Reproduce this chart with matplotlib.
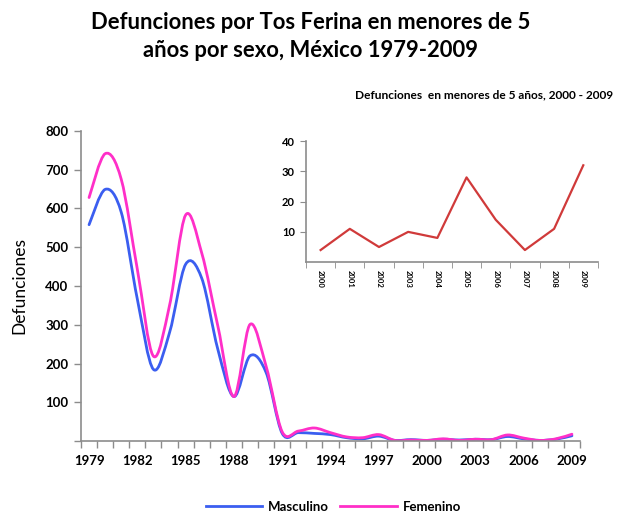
import numpy as np
import matplotlib
matplotlib.use("Agg")
import matplotlib.pyplot as plt
from matplotlib.path import Path
from matplotlib.patches import PathPatch
from matplotlib.lines import Line2D
from matplotlib.ticker import FixedLocator

plt.rcParams['font.family'] = ['Lato', 'DejaVu Sans']

years = list(range(1979, 2010))
masculino = [558, 649, 590, 366, 185, 280, 456, 420, 237, 115, 220, 177, 20, 22, 20,
             17, 9, 6, 13, 2, 4, 2, 5, 3, 5, 4, 12, 6, 2, 5, 14]
femenino = [628, 741, 675, 443, 219, 350, 583, 485, 297, 115, 301, 193, 24, 26, 34,
            22, 11, 9, 17, 2, 3, 2, 6, 2, 5, 4, 16, 8, 2, 6, 18]

inset_years = list(range(2000, 2010))
inset_total = [4, 11, 5, 10, 8, 28, 14, 4, 11, 32]

blue = '#3b5ef0'
pink = '#ff2fc8'
red = '#d03a3a'
gray = '#8c8c8c'


def smooth_path(x, y):
    # Excel-style smoothed line: cubic bezier segments through every point
    pts = np.column_stack([x, y]).astype(float)
    n = len(pts)
    verts = [pts[0]]
    codes = [Path.MOVETO]
    for i in range(n - 1):
        p0 = pts[i - 1] if i > 0 else pts[i]
        p1 = pts[i]
        p2 = pts[i + 1]
        p3 = pts[i + 2] if i + 2 < n else pts[i + 1]
        c1 = p1 + (p2 - p0) / 6.0
        c2 = p2 - (p3 - p1) / 6.0
        verts += [c1, c2, p2]
        codes += [Path.CURVE4] * 3
    return Path(verts, codes)


fig = plt.figure(figsize=(6.17, 5.13), dpi=100)

ax = fig.add_axes([0.1313, 0.140, 0.8087, 0.605])
xpos = np.arange(len(years))
for vals, col in [(masculino, blue), (femenino, pink)]:
    ax.add_patch(PathPatch(smooth_path(xpos, vals), fill=False, edgecolor=col,
                           lw=2.0, capstyle='round', joinstyle='round'))
ax.set_xlim(-0.5, len(years) - 0.5)
ax.set_ylim(0, 800)
ax.set_yticks(range(100, 801, 100))
ax.yaxis.set_minor_locator(FixedLocator([0]))
ax.set_xticks(xpos[::3])
ax.set_xticklabels([str(y) for y in years[::3]])
ax.xaxis.set_minor_locator(FixedLocator(np.arange(-0.5, len(years), 1.0)))
ax.tick_params(axis='x', which='major', length=0, pad=10, labelsize=9.5)
ax.tick_params(axis='x', which='minor', length=5, width=1, color=gray, direction='out')
ax.tick_params(axis='y', which='both', length=5, width=1, color=gray, direction='out',
               labelsize=9.5, pad=4)
for lab in ax.get_xticklabels() + ax.get_yticklabels():
    lab.set_fontweight('bold')
for s in ['top', 'right']:
    ax.spines[s].set_visible(False)
for s in ['left', 'bottom']:
    ax.spines[s].set_color(gray)
    ax.spines[s].set_linewidth(1.2)
ax.set_ylabel('Defunciones', fontsize=12.5, labelpad=13)

# inset chart
ins = fig.add_axes([0.496, 0.489, 0.473, 0.236])
ipos = np.arange(len(inset_years))
ins.plot(ipos, inset_total, color=red, lw=1.6)
ins.set_xlim(-0.5, len(inset_years) - 0.5)
ins.set_ylim(0, 40)
ins.set_yticks([10, 20, 30, 40])
ins.set_xticks(ipos)
ins.set_xticklabels([str(y) for y in inset_years], rotation=270, fontsize=5.5,
                    fontweight='bold')
ins.xaxis.set_minor_locator(FixedLocator(np.arange(-0.5, len(inset_years), 1.0)))
ins.tick_params(axis='x', which='major', length=0, pad=6)
ins.tick_params(axis='x', which='minor', length=4, color=gray)
ins.tick_params(axis='y', length=4, color=gray, labelsize=8, pad=4)
for lab in ins.get_yticklabels():
    lab.set_fontweight('bold')
for s in ['top', 'right']:
    ins.spines[s].set_visible(False)
for s in ['left', 'bottom']:
    ins.spines[s].set_color(gray)
    ins.spines[s].set_linewidth(1.2)

fig.text(0.503, 0.977, 'Defunciones por Tos Ferina en menores de 5\naños por sexo, México 1979-2009',
         ha='center', va='top', fontsize=15.8, fontweight='bold', linespacing=1.45)
fig.text(0.993, 0.815, 'Defunciones  en menores de 5 años, 2000 - 2009',
         ha='right', va='center', fontsize=8.6, fontweight='bold')

handles = [Line2D([], [], color=blue, lw=2), Line2D([], [], color=pink, lw=2)]
fig.legend(handles, ['Masculino', 'Femenino'], loc='center', bbox_to_anchor=(0.54, 0.012),
           ncol=2, frameon=False, handlelength=4.3, columnspacing=0.9,
           handletextpad=0.4, prop={'weight': 'bold', 'size': 9.5})

fig.savefig('out.png', dpi=100)
